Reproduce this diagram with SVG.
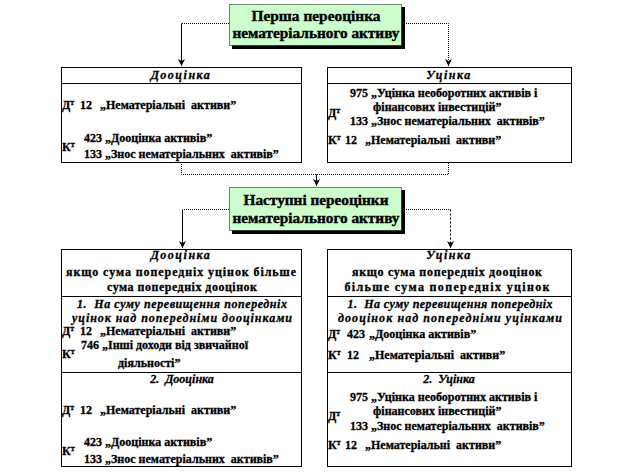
<svg xmlns="http://www.w3.org/2000/svg" width="631" height="474" viewBox="0 0 631 474" xml:space="preserve">
<style>
text{font-family:"Liberation Serif","Times New Roman","DejaVu Serif",serif;font-size:12px;font-weight:bold;fill:#000;stroke:#000;stroke-width:0.3px;white-space:pre}
.t{font-size:15px;text-anchor:middle;stroke-width:0.4px}
.c{text-anchor:middle}
.hd{text-anchor:middle;font-style:italic;letter-spacing:1.5px}
.it{text-anchor:middle;font-style:italic}
.box{fill:#fff;stroke:#000;stroke-width:1}
.sep{stroke:#000;stroke-width:1}
.tb{fill:#ccffcc;stroke:#000;stroke-width:1;stroke-dasharray:1,1}
.sh{fill:#000}
.sol{fill:none;stroke:#000;stroke-width:1}
.dot{fill:none;stroke:#000;stroke-width:1;stroke-dasharray:1,1}
.sup{font-size:8px}
</style>
<defs>
<marker id="ar" markerUnits="userSpaceOnUse" markerWidth="8" markerHeight="8" refX="7" refY="3.5" orient="auto">
<path d="M0,0 L7,3.5 L0,7 L2,3.5 z" fill="#000"/>
</marker>
</defs>

<g id="connectors">
<path class="dot" d="M229,23.5 H181.5"/>
<path class="sol" d="M181.5,23.5 V66" marker-end="url(#ar)"/>
<path class="dot" d="M402,23.5 H448.5 V66" marker-end="url(#ar)"/>
<path class="dot" d="M181.5,162 V174.5 H448.5 V162"/>
<path class="sol" d="M316.5,174.5 V186" marker-end="url(#ar)"/>
<path class="dot" d="M229,209.5 H182.5"/>
<path class="sol" d="M182.5,209.5 V248" marker-end="url(#ar)"/>
<path class="dot" d="M402,209.5 H450.5"/>
<path fill="none" stroke="#000" stroke-dasharray="2,2" d="M450.5,209.5 V248" marker-end="url(#ar)"/>
</g>

<g id="title1">
<rect class="sh" x="232" y="7" width="173" height="42"/>
<rect class="tb" x="229.5" y="4.5" width="172" height="41"/>
<text class="t" x="316" y="21" textLength="129" lengthAdjust="spacingAndGlyphs">Перша переоцінка</text>
<text class="t" x="316" y="38" textLength="167" lengthAdjust="spacingAndGlyphs">нематеріального активу</text>
</g>

<g id="up-first">
<rect class="box" x="61.5" y="67.5" width="240" height="95"/>
<line class="sep" x1="61.5" y1="83.5" x2="301.5" y2="83.5"/>
<text class="hd" x="181" y="79">Дооцінка</text>
<text x="62" y="109">Д<tspan class="sup" dy="-4">т</tspan></text>
<text x="80" y="109">12</text>
<text x="100" y="109">„Нематеріальні  активи”</text>
<text x="84" y="142">423 „Дооцінка активів”</text>
<text x="62" y="151">К<tspan class="sup" dy="-4">т</tspan></text>
<text x="84" y="158">133 „Знос нематеріальних  активів”</text>
</g>

<g id="down-first">
<rect class="box" x="327.5" y="67.5" width="244" height="95"/>
<line class="sep" x1="327.5" y1="83.5" x2="571.5" y2="83.5"/>
<text class="hd" x="449" y="79">Уцінка</text>
<text x="350" y="97">975 „Уцінка необоротних активів і</text>
<text x="373" y="111">фінансових інвестицій”</text>
<text x="328" y="117">Д<tspan class="sup" dy="-4">т</tspan></text>
<text x="350" y="125">133 „Знос нематеріальних  активів”</text>
<text x="328" y="144">К<tspan class="sup" dy="-4">т</tspan></text>
<text x="345" y="144">12</text>
<text x="365" y="144">„Нематеріальні  активи”</text>
</g>

<g id="title2">
<rect class="sh" x="232" y="190" width="173" height="44"/>
<rect class="tb" x="229.5" y="187.5" width="172" height="43"/>
<text class="t" x="316" y="205" textLength="145" lengthAdjust="spacingAndGlyphs">Наступні переоцінки</text>
<text class="t" x="316" y="223" textLength="167" lengthAdjust="spacingAndGlyphs">нематеріального активу</text>
</g>

<g id="up-next">
<rect class="box" x="61.5" y="249.5" width="240" height="217"/>
<line class="sep" x1="61.5" y1="296.5" x2="301.5" y2="296.5"/>
<line class="sep" x1="61.5" y1="372.5" x2="301.5" y2="372.5"/>
<text class="hd" x="181" y="259">Дооцінка</text>
<text class="c" x="181" y="276" textLength="230" lengthAdjust="spacing">якщо сума попередніх уцінок більше</text>
<text class="c" x="182" y="291" textLength="150" lengthAdjust="spacing">сума попередніх дооцінок</text>
<text class="it" x="182" y="308" textLength="210" lengthAdjust="spacing">1.  На суму перевищення попередніх</text>
<text class="it" x="182" y="322" textLength="220" lengthAdjust="spacing">уцінок над попередніми дооцінками</text>
<text x="62" y="335">Д<tspan class="sup" dy="-4">т</tspan></text>
<text x="80" y="335">12</text>
<text x="100" y="335">„Нематеріальні  активи”</text>
<text x="81" y="349">746 „Інші доходи від звичайної</text>
<text x="62" y="358">К<tspan class="sup" dy="-4">т</tspan></text>
<text x="118" y="367">діяльності”</text>
<text class="it" x="182" y="383">2.  Дооцінка</text>
<text x="62" y="414">Д<tspan class="sup" dy="-4">т</tspan></text>
<text x="80" y="414">12</text>
<text x="100" y="414">„Нематеріальні  активи”</text>
<text x="84" y="446">423 „Дооцінка активів”</text>
<text x="62" y="455">К<tspan class="sup" dy="-4">т</tspan></text>
<text x="84" y="463">133 „Знос нематеріальних  активів”</text>
</g>

<g id="down-next">
<rect class="box" x="327.5" y="249.5" width="244" height="217"/>
<line class="sep" x1="327.5" y1="296.5" x2="571.5" y2="296.5"/>
<line class="sep" x1="327.5" y1="372.5" x2="571.5" y2="372.5"/>
<text class="hd" x="449" y="259">Уцінка</text>
<text class="c" x="447" y="276" textLength="190" lengthAdjust="spacing">якщо сума попередніх дооцінок</text>
<text class="c" x="447" y="291" textLength="205" lengthAdjust="spacing">більше сума попередніх уцінок</text>
<text class="it" x="450" y="308" textLength="205" lengthAdjust="spacing">1.  На суму перевищення попередніх</text>
<text class="it" x="450" y="322" textLength="224" lengthAdjust="spacing">дооцінок над попередніми уцінками</text>
<text x="328" y="338">Д<tspan class="sup" dy="-4">т</tspan></text>
<text x="347" y="338">423</text>
<text x="369" y="338">„Дооцінка активів”</text>
<text x="328" y="359">К<tspan class="sup" dy="-4">т</tspan></text>
<text x="347" y="359">12</text>
<text x="369" y="359">„Нематеріальні  активи”</text>
<text class="it" x="449" y="383">2.  Уцінка</text>
<text x="350" y="401">975 „Уцінка необоротних активів і</text>
<text x="373" y="415">фінансових інвестицій”</text>
<text x="328" y="420">Д<tspan class="sup" dy="-4">т</tspan></text>
<text x="350" y="430">133 „Знос нематеріальних  активів”</text>
<text x="328" y="449">К<tspan class="sup" dy="-4">т</tspan></text>
<text x="345" y="449">12</text>
<text x="365" y="449">„Нематеріальні  активи”</text>
</g>
</svg>
